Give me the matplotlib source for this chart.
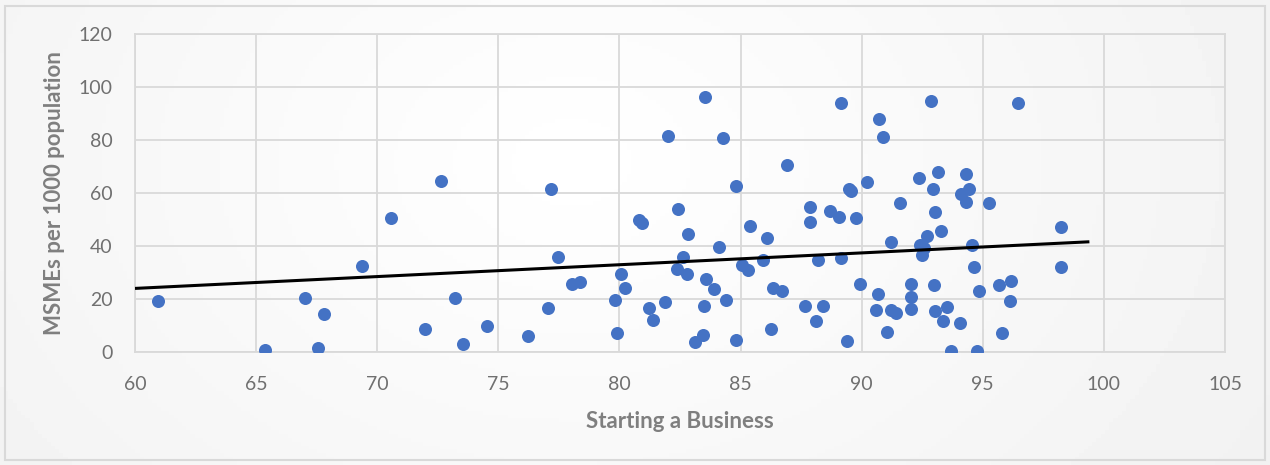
import numpy as np
import matplotlib.pyplot as plt

# Starting a Business score (x) vs MSMEs per 1000 population (y)
business_score = [
    60.94, 65.36, 67.56, 67.01, 67.79, 69.36, 70.58, 71.97, 72.65, 73.21,
    73.56, 74.53, 76.21, 77.05, 77.16, 77.46, 78.06, 78.37, 80.07, 80.22,
    79.83, 79.91, 80.81, 80.95, 81.22, 81.39, 81.88, 82.02, 82.43, 82.61,
    82.39, 82.78, 82.83, 83.55, 83.58, 83.89, 83.49, 83.13, 83.44, 84.26,
    84.10, 84.41, 84.80, 84.83, 85.05, 85.32, 85.38, 86.08, 85.92, 86.35,
    86.70, 86.25, 86.91, 87.88, 87.86, 87.68, 88.20, 88.39, 88.10, 88.70,
    89.07, 89.16, 89.16, 89.40, 89.49, 89.56, 89.77, 89.94, 90.21, 90.72,
    90.89, 90.69, 90.60, 91.22, 91.20, 91.41, 91.06, 91.57, 92.05, 92.02,
    92.05, 92.36, 92.95, 93.17, 92.85, 93.02, 93.27, 92.70, 92.41, 92.59,
    92.50, 92.98, 93.03, 93.51, 93.37, 94.05, 93.70, 94.78, 94.30, 94.42,
    94.09, 94.30, 94.57, 94.65, 94.83, 95.25, 96.46, 98.22, 98.22, 95.67,
    96.18, 96.13, 95.78,
]
msmes = [
    19.2, 0.6, 1.5, 20.4, 14.2, 32.4, 50.5, 8.7, 64.5, 20.4,
    3.2, 10.0, 6.2, 16.5, 61.5, 35.8, 25.7, 26.6, 29.6, 24.1,
    19.5, 7.3, 49.8, 48.5, 16.6, 12.2, 18.8, 81.5, 53.9, 35.8,
    31.5, 29.6, 44.5, 96.1, 27.6, 23.8, 17.4, 3.8, 6.3, 80.8,
    39.6, 19.5, 4.5, 62.5, 32.8, 31.1, 47.4, 43.2, 34.6, 24.3,
    22.9, 8.6, 70.4, 54.9, 49.0, 17.4, 34.6, 17.2, 11.6, 53.4,
    51.0, 94.1, 35.5, 4.2, 61.6, 60.8, 50.5, 25.6, 64.2, 88.0,
    81.0, 21.8, 15.9, 41.6, 15.9, 14.9, 7.6, 56.1, 25.6, 20.6,
    16.2, 65.6, 61.5, 68.0, 94.8, 52.7, 45.5, 43.7, 40.2, 39.3,
    36.5, 25.3, 15.5, 16.8, 11.6, 10.8, 0.4, 0.3, 67.0, 61.4,
    59.6, 56.6, 40.2, 32.1, 23.0, 56.1, 94.0, 47.0, 32.0, 25.1,
    26.7, 19.3, 7.3,
]
# linear trendline as drawn in the chart
trend_x = [60, 99.4]
trend_y = [24.0, 41.6]

x_ticks = [60, 65, 70, 75, 80, 85, 90, 95, 100, 105]
y_ticks = [0, 20, 40, 60, 80, 100, 120]

fig = plt.figure(figsize=(12.7, 4.65), dpi=100)

# soft gradient background like the Excel chart area
bg = fig.add_axes([0, 0, 1, 1], zorder=0)
gx, gy = np.meshgrid(np.linspace(0, 1, 300), np.linspace(0, 1, 120))
shade = 1 - 0.07 * np.clip(np.hypot((gx - 0.45) * 1.2, (gy - 0.35) * 0.6), 0, 1)
bg.imshow(shade, cmap='gray', vmin=0, vmax=1, aspect='auto', extent=[0, 1, 0, 1])
bg.add_patch(plt.Rectangle((0.004, 0.01), 0.992, 0.978, fill=False,
                           edgecolor='#D9D9D9', linewidth=1.5, transform=bg.transAxes))
bg.set_xlim(0, 1)
bg.set_ylim(0, 1)
bg.axis('off')

ax = fig.add_axes([0.1063, 0.243, 0.8583, 0.6838], zorder=1)
ax.patch.set_alpha(0)

ax.scatter(business_score, msmes, s=88, color='#4472C4', zorder=3, linewidths=0)
ax.plot(trend_x, trend_y, color='black', linewidth=2.2, zorder=4,
        solid_capstyle='butt')

ax.set_xlim(60, 105)
ax.set_ylim(0, 120)
ax.set_xticks(x_ticks)
ax.set_yticks(y_ticks)
ax.grid(True, color='#D9D9D9', linewidth=1.3)
ax.set_axisbelow(True)
for s in ax.spines.values():
    s.set_color('#D9D9D9')
    s.set_linewidth(1.3)
ax.tick_params(length=0, labelsize=14, labelcolor='#707070')
ax.tick_params(axis='x', pad=17)
ax.tick_params(axis='y', pad=16)
for lab in ax.get_xticklabels() + ax.get_yticklabels():
    lab.set_family('Lato')

ax.set_xlabel('Starting a Business', fontsize=16, fontweight='bold',
              color='#7F7F7F', family='Lato', labelpad=13)
ax.set_ylabel('MSMEs per 1000 population', fontsize=16, fontweight='bold',
              color='#7F7F7F', family='Lato', labelpad=10)

fig.savefig('out.png', dpi=100)
